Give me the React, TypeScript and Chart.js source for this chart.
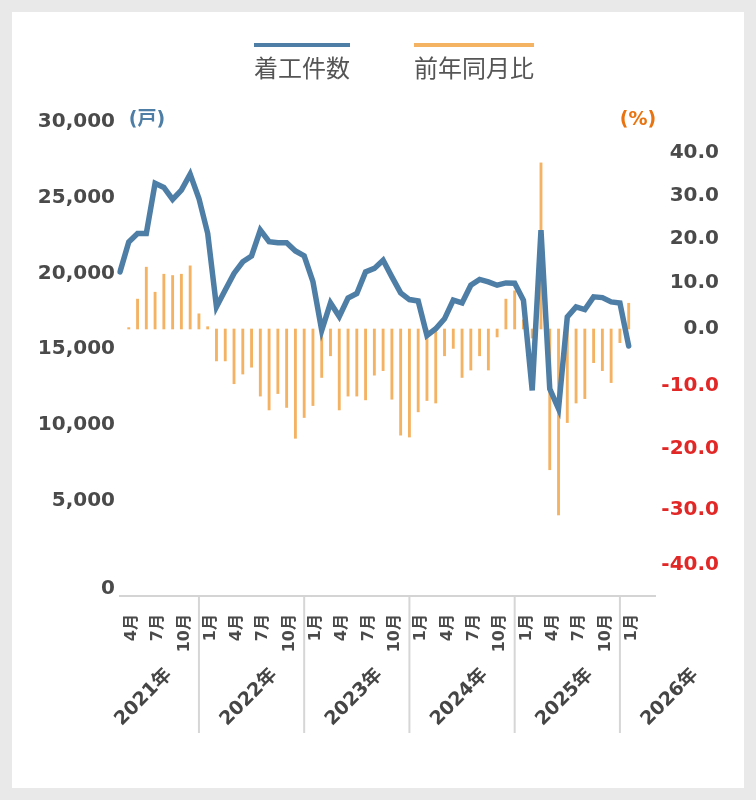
import React, { useEffect, useRef } from 'react';
import { Chart, registerables, LinearScale } from 'chart.js';

// ---------- data ----------
const categories = [
  '2021-03', '2021-04', '2021-05', '2021-06', '2021-07', '2021-08', '2021-09', '2021-10', '2021-11', '2021-12',
  '2022-01', '2022-02', '2022-03', '2022-04', '2022-05', '2022-06', '2022-07', '2022-08', '2022-09', '2022-10', '2022-11', '2022-12',
  '2023-01', '2023-02', '2023-03', '2023-04', '2023-05', '2023-06', '2023-07', '2023-08', '2023-09', '2023-10', '2023-11', '2023-12',
  '2024-01', '2024-02', '2024-03', '2024-04', '2024-05', '2024-06', '2024-07', '2024-08', '2024-09', '2024-10', '2024-11', '2024-12',
  '2025-01', '2025-02', '2025-03', '2025-04', '2025-05', '2025-06', '2025-07', '2025-08', '2025-09', '2025-10', '2025-11', '2025-12',
  '2026-01', '2026-02', '2026-03', '2026-04',
];

// 着工件数 (戸)
const housingStarts = [
  20100, 22080, 22640, 22640, 25950, 25680, 24890, 25500, 26560, 24950,
  22640, 17790, 18900, 20000, 20770, 21150, 22860, 22090, 22020, 22020, 21480, 21150,
  19450, 16240, 18050, 17150, 18370, 18670, 20100, 20330, 20870, 19770, 18710, 18270,
  18180, 15900, 16340, 17000, 18230, 18050, 19220, 19600, 19440, 19220, 19370, 19350,
  18230, 12270, 22860, 12380, 11060, 17120, 17790, 17610, 18450, 18400, 18120, 18050,
  15200,
];

// 前年同月比 (%)
const yoyChange = [
  null, 0.3, 6.5, 13.6, 8.0, 12.0, 11.7, 12.0, 13.9, 3.3,
  0.5, -5.6, -5.6, -9.6, -7.9, -6.7, -11.6, -13.8, -11.2, -13.4, -18.3, -15.0,
  -13.1, -8.5, -4.7, -13.8, -11.6, -11.6, -12.2, -8.1, -7.3, -12.1, -17.8, -18.1,
  -14.1, -12.3, -12.7, -4.7, -3.4, -8.5, -7.2, -4.7, -7.2, -1.4, 6.5, 8.3,
  2.0, -1.6, 37.7, -23.4, -30.9, -15.8, -12.7, -12.0, -5.9, -7.3, -9.4, -2.4,
  5.6,
];

const leftTicks = [0, 5000, 10000, 15000, 20000, 25000, 30000];
const rightTicks = [-40, -30, -20, -10, 0, 10, 20, 30, 40];
const quarterMonths = [1, 4, 7, 10];
const years = [2021, 2022, 2023, 2024, 2025, 2026];
const legendLabels = ['着工件数', '前年同月比'];
const unitLabels = ['(戸)', '(%)'];

// ---------- styles ----------
const BLUE = '#4e7ea5';
const ORANGE = '#f4b263';
const UNIT_ORANGE = '#e9730f';
const RED = '#e22727';
const GREY = '#4a4a4a';
const FONT = '"DejaVu Sans", "Noto Sans CJK JP", sans-serif';

// axis breakpoints: [value, fraction of plot height from bottom]
const AXIS_BREAKS: Record<string, [number, number][]> = {
  y: [[-400, 0], [0, 0.0148], [5000, 0.2015], [30000, 1]],
  y1: [
    [-45.4, 0], [-40, 0.0654], [-30, 0.1814], [-20, 0.3101], [-10, 0.443], [0, 0.5633],
    [10, 0.6603], [20, 0.7532], [30, 0.8439], [40, 0.9346], [47.2, 1],
  ],
};

class PiecewiseScale extends LinearScale {
  static id = 'piecewise';
  static defaults = {};
  getPixelForValue(value: any) {
    if (value === null || value === undefined || Number.isNaN(+value)) return NaN;
    const v = +value;
    const bp = AXIS_BREAKS[(this as any).id];
    let i = 0;
    while (i < bp.length - 2 && v > bp[i + 1][0]) i++;
    const [v0, f0] = bp[i];
    const [v1, f1] = bp[i + 1];
    const f = f0 + ((v - v0) * (f1 - f0)) / (v1 - v0);
    const s: any = this;
    return s.bottom - f * (s.bottom - s.top);
  }
  getValueForPixel(pixel: number) {
    const s: any = this;
    const bp = AXIS_BREAKS[s.id];
    const f = (s.bottom - pixel) / (s.bottom - s.top);
    let i = 0;
    while (i < bp.length - 2 && f > bp[i + 1][1]) i++;
    const [v0, f0] = bp[i];
    const [v1, f1] = bp[i + 1];
    return v0 + ((f - f0) * (v1 - v0)) / (f1 - f0);
  }
}

Chart.register(...registerables, PiecewiseScale as any);

const firstYear = Number(categories[0].slice(0, 4));
const firstMonth = Number(categories[0].slice(5));
const decIndexBefore = (year: number) => (year - firstYear) * 12 + (1 - firstMonth) - 1;

const decorPlugin = {
  id: 'decor',
  afterDraw(chart: any) {
    const { ctx, chartArea } = chart;
    const xs = chart.scales.x;
    ctx.save();

    // legend
    ctx.font = `24px "Noto Sans CJK JP", sans-serif`;
    ctx.textAlign = 'center';
    ctx.textBaseline = 'middle';
    const legendItems = [
      { text: legendLabels[0], color: BLUE, cx: 302 },
      { text: legendLabels[1], color: ORANGE, cx: 474 },
    ];
    legendItems.forEach((it) => {
      const w = ctx.measureText(it.text).width;
      ctx.fillStyle = it.color;
      ctx.fillRect(it.cx - w / 2, 43, w, 4);
      ctx.fillStyle = '#555555';
      ctx.fillText(it.text, it.cx, 68);
    });

    // unit labels
    ctx.font = `bold 19px ${FONT}`;
    ctx.fillStyle = BLUE;
    ctx.fillText(unitLabels[0], 147, chartArea.top - 2);
    ctx.fillStyle = UNIT_ORANGE;
    ctx.fillText(unitLabels[1], 638, chartArea.top - 2);

    // year separators
    ctx.strokeStyle = '#d6d6d6';
    ctx.lineWidth = 2;
    years.slice(1).forEach((y) => {
      const px = xs.getPixelForValue(decIndexBefore(y));
      ctx.beginPath();
      ctx.moveTo(px, chartArea.bottom + 1);
      ctx.lineTo(px, 733);
      ctx.stroke();
    });

    // year labels
    ctx.font = `bold 19px ${FONT}`;
    ctx.fillStyle = '#454545';
    ctx.textAlign = 'right';
    ctx.textBaseline = 'middle';
    years.forEach((y) => {
      const px = xs.getPixelForValue(decIndexBefore(y) + 8.6);
      ctx.save();
      ctx.translate(px, 672);
      ctx.rotate(-Math.PI / 4);
      ctx.fillText(`${y}年`, 0, 0);
      ctx.restore();
    });

    ctx.restore();
  },
};

export default function App() {
  const canvasRef = useRef<HTMLCanvasElement | null>(null);

  useEffect(() => {
    const canvas = canvasRef.current;
    if (!canvas) return;
    const lastIdx = housingStarts.length - 1;
    const chart = new Chart(canvas, {
      type: 'line',
      data: {
        labels: categories,
        datasets: [
          {
            type: 'line',
            label: legendLabels[0],
            data: housingStarts,
            yAxisID: 'y',
            borderColor: BLUE,
            borderWidth: 5.5,
            pointRadius: 0,
            tension: 0,
            borderCapStyle: 'round',
            fill: false,
            order: 0,
          } as any,
          {
            type: 'bar',
            label: legendLabels[1],
            data: yoyChange,
            yAxisID: 'y1',
            backgroundColor: ORANGE,
            barThickness: 2.2,
            order: 1,
          } as any,
        ],
      },
      options: {
        responsive: false,
        animation: false,
        devicePixelRatio: 1,
        layout: { padding: { top: 122, left: 0, right: 37, bottom: 0 } },
        plugins: { legend: { display: false }, tooltip: { enabled: false } },
        scales: {
          x: {
            type: 'category',
            offset: false,
            grid: { display: false, drawTicks: false },
            border: { display: true, color: '#d4d4d4', width: 2 },
            ticks: {
              autoSkip: false,
              minRotation: 90,
              maxRotation: 90,
              padding: 18,
              labelOffset: 3,
              color: GREY,
              font: { family: FONT, size: 16, weight: 'bold' },
              callback: (_v: any, index: number) => {
                const m = Number(categories[index].slice(5));
                return index <= lastIdx && quarterMonths.includes(m) ? `${m}月` : '';
              },
            },
            afterFit: (s: any) => {
              s.height = 204;
            },
          },
          y: {
            type: 'piecewise' as any,
            position: 'left',
            min: -400,
            max: 30000,
            grid: { display: false, drawTicks: false },
            border: { display: false },
            ticks: {
              padding: 5,
              color: GREY,
              font: { family: FONT, size: 20, weight: 'bold' },
              callback: (v: any) => Number(v).toLocaleString('en-US'),
            },
            afterBuildTicks: (s: any) => {
              s.ticks = leftTicks.map((v) => ({ value: v }));
            },
            afterFit: (s: any) => {
              s.width = 120;
            },
          },
          y1: {
            type: 'piecewise' as any,
            position: 'right',
            min: -45.4,
            max: 47.2,
            grid: { display: false, drawTicks: false },
            border: { display: false },
            ticks: {
              padding: 6,
              crossAlign: 'far',
              color: (c: any) => (c.tick && c.tick.value < 0 ? RED : GREY),
              font: { family: FONT, size: 20, weight: 'bold' },
              callback: (v: any) => Number(v).toFixed(1),
            },
            afterBuildTicks: (s: any) => {
              s.ticks = rightTicks.map((v) => ({ value: v }));
            },
            afterFit: (s: any) => {
              s.width = 64;
            },
          },
        } as any,
      },
      plugins: [decorPlugin],
    } as any);
    return () => chart.destroy();
  }, []);

  return (
    <div style={{ position: 'absolute', left: 0, top: 0, width: 756, height: 800, background: '#e9e9e9' }}>
      <div style={{ position: 'absolute', left: 12, top: 12, width: 732, height: 776, background: '#ffffff' }} />
      <canvas
        ref={canvasRef}
        width={756}
        height={800}
        style={{ position: 'absolute', left: 0, top: 0, width: 756, height: 800 }}
      />
    </div>
  );
}
